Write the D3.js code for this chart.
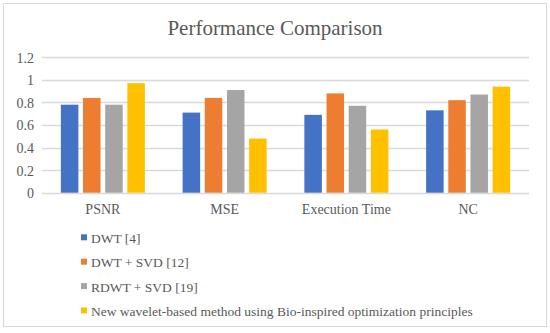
<!DOCTYPE html>
<html>
<head>
<meta charset="utf-8">
<script src="https://cdn.jsdelivr.net/npm/d3@7"></script>
<style>
  body { margin: 0; background: #fff; }
  svg text { font-family: "Liberation Serif", "Times New Roman", Times, serif !important; fill: #595959; }
</style>
</head>
<body>
<div id="chart_container"></div>
<script>
// data
const categories = ["PSNR", "MSE", "Execution Time", "NC"];
const seriesNames = ["DWT [4]", "DWT + SVD [12]", "RDWT + SVD [19]",
    "New wavelet-based method using Bio-inspired optimization principles"];
const dwt = [0.78, 0.71, 0.69, 0.73];
const dwtSvd = [0.84, 0.84, 0.88, 0.82];
const rdwtSvd = [0.78, 0.91, 0.77, 0.87];
const newMethod = [0.97, 0.48, 0.56, 0.94];
const yTicks = [0, 0.2, 0.4, 0.6, 0.8, 1, 1.2];
const colors = ["#4472C4", "#ED7D31", "#A5A5A5", "#FFC000"];

const seriesValues = [dwt, dwtSvd, rdwtSvd, newMethod];

const w = 550, h = 333;
const margin = {top: 57, right: 21, bottom: 140, left: 42};

const svg = d3.select("#chart_container").append("svg")
    .attr("width", w)
    .attr("height", h)
    .style("font-family", "'Liberation Serif', serif");

// outer border
svg.append("rect")
    .attr("x", 3.5).attr("y", 3.5)
    .attr("width", 543).attr("height", 323)
    .attr("fill", "#fff")
    .attr("stroke", "#d9d9d9");

// title
svg.append("text")
    .attr("x", 275).attr("y", 35)
    .attr("text-anchor", "middle")
    .style("font-size", "21px")
    .text("Performance Comparison");

// scales
const yScale = d3.scaleLinear()
    .domain([0, 1.2])
    .range([192.7, 57.3]);

const x0 = d3.scaleBand()
    .domain(categories)
    .range([margin.left, w - margin.right])
    .paddingInner(0)
    .paddingOuter(0);

const groupW = 84;
const x1 = d3.scaleBand()
    .domain(d3.range(seriesNames.length))
    .range([0, groupW])
    .paddingInner(0.21);

// gridlines
svg.append("g")
    .selectAll("line")
    .data(yTicks)
    .enter().append("line")
    .attr("x1", margin.left).attr("x2", w - margin.right)
    .attr("y1", d => Math.round(yScale(d)) + 0.5)
    .attr("y2", d => Math.round(yScale(d)) + 0.5)
    .attr("stroke", "#d9d9d9")
    .attr("stroke-width", 1.3);

// y-axis labels
const yAxis = d3.axisLeft(yScale)
    .tickValues(yTicks)
    .tickSize(0)
    .tickPadding(0)
    .tickFormat(d => d3.format("~g")(d));

svg.append("g")
    .attr("transform", "translate(34,0)")
    .call(yAxis)
    .call(g => g.select(".domain").remove())
    .call(g => g.selectAll("text")
        .attr("dy", "0.35em")
        .style("font-size", "14px")
        .attr("fill", "#595959"));

// bars
const groups = svg.append("g")
    .selectAll("g")
    .data(categories)
    .enter().append("g")
    .attr("transform", d => "translate(" + (x0(d) + (x0.bandwidth() - groupW) / 2) + ",0)");

groups.selectAll("rect")
    .data((d, i) => seriesValues.map((s, j) => ({series: j, value: s[i]})))
    .enter().append("rect")
    .attr("x", d => x1(d.series))
    .attr("width", x1.bandwidth())
    .attr("y", d => yScale(d.value))
    .attr("height", d => yScale(0) - yScale(d.value))
    .attr("fill", d => colors[d.series]);

// category labels
const xAxis = d3.axisBottom(x0).tickSize(0).tickPadding(0);
svg.append("g")
    .attr("transform", "translate(0," + yScale(0) + ")")
    .call(xAxis)
    .call(g => g.select(".domain").remove())
    .call(g => g.selectAll("text")
        .attr("y", 21)
        .attr("dy", 0)
        .style("font-size", "14px")
        .attr("fill", "#595959"));

// legend
const legend = svg.append("g")
    .selectAll("g")
    .data(seriesNames)
    .enter().append("g")
    .attr("transform", (d, i) => "translate(81," + (234.3 + i * 24.4) + ")");

legend.append("rect")
    .attr("width", 6).attr("height", 6)
    .attr("fill", (d, i) => colors[i]);

legend.append("text")
    .attr("x", 10).attr("y", 8.5)
    .style("font-size", "13.5px")
    .text(d => d);
</script>
</body>
</html>
